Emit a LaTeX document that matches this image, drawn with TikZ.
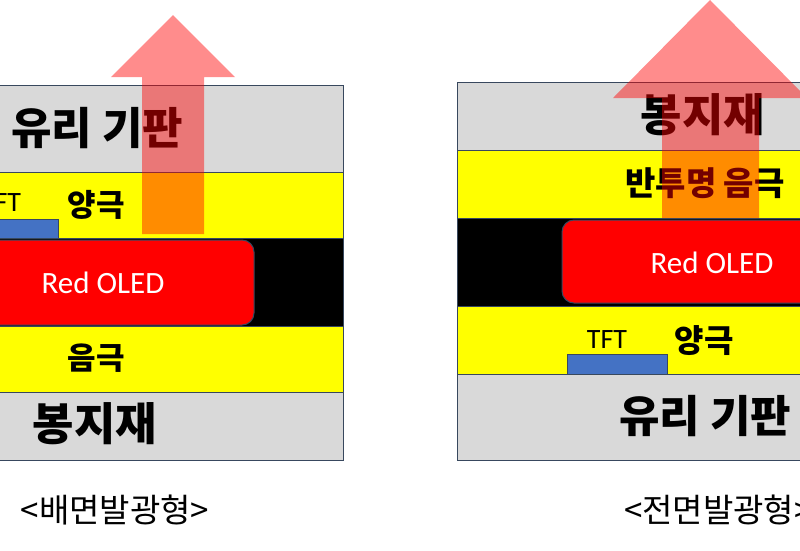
\documentclass[tikz,border=0pt]{standalone}
\usepackage{fontspec}
\setmainfont{Carlito}
\newfontfamily\kr{Noto Sans CJK KR}
\definecolor{edge}{RGB}{56,72,94}
\definecolor{glass}{RGB}{217,217,217}
\definecolor{elec}{RGB}{255,255,0}
\definecolor{tftblue}{RGB}{68,114,196}
\tikzset{
  layer/.style={draw=edge, line width=1pt},
  oled/.style={draw=edge, line width=1pt, fill=red, rounded corners=12pt},
  tftbox/.style={draw=edge, line width=1pt, fill=tftblue},
  light/.style={fill=red, fill opacity=0.45, draw=none},
  kb/.style={inner sep=0pt, font=\kr\bfseries\fontsize{#1}{#1}\selectfont},
  lat/.style={inner sep=0pt, font=\fontsize{#1}{#1}\selectfont},
  captext/.style={inner sep=0pt, font=\kr\fontsize{33}{33}\selectfont}
}
\begin{document}
\begin{tikzpicture}[x=1pt,y=-1pt]
\useasboundingbox (0,0) rectangle (800,550);
\clip (0,0) rectangle (800,550);
% ---------- left panel (bottom emission) ----------
\path[layer, fill=glass] (-10,85) rectangle (343,172);
\path[layer, fill=elec] (-10,172) rectangle (343,238);
\path[layer, fill=black] (-10,238) rectangle (343,326);
\path[layer, fill=elec] (-10,326) rectangle (343,392);
\path[layer, fill=glass] (-10,392) rectangle (343,460);
\path[oled] (-20,240) rectangle (254,325);
\path[tftbox] (-42,219) rectangle (58,238);
\node[kb=44] (glassL) at (97,128) {유리 기판};
\node[lat=28] (tftL) at (1,203) {TFT};
\node[kb=31] (anodeL) at (96,205) {양극};
\node[lat=31, text=white] (oledL) at (103,283) {Red OLED};
\node[kb=31] (cathL) at (96,358) {음극};
\node[kb=45] (sealL) at (95,424) {봉지재};
\node[captext] (capL) at (115,510) {<배면발광형>};
% ---------- right panel (top emission) ----------
\path[layer, fill=glass] (457,82) rectangle (810,150);
\path[layer, fill=elec] (457,150) rectangle (810,218);
\path[layer, fill=black] (457,218) rectangle (810,306);
\path[layer, fill=elec] (457,306) rectangle (810,374);
\path[layer, fill=glass] (457,374) rectangle (810,460);
\path[oled] (562,220) rectangle (830,303);
\path[tftbox] (567,354) rectangle (667,374);
\node[kb=45] (sealR) at (703,115) {봉지재};
\node[kb=33] (cathR) at (705,183) {반투명 음극};
\node[lat=31, text=white] (oledR) at (712,263) {Red OLED};
\node[lat=28] (tftR) at (607,340) {TFT};
\node[kb=32] (anodeR) at (704,341) {양극};
\node[kb=44] (glassR) at (705,416) {유리 기판};
\node[captext, anchor=west] (capR) at (624,510) {<전면발광형>};
% ---------- light arrows ----------
\path[light] (173,15) -- (235,77) -- (204,77) -- (204,234) -- (142,234) -- (142,77) -- (111,77) -- cycle;
\path[light] (710,0) -- (807,98) -- (759,98) -- (759,218) -- (662,218) -- (662,98) -- (613,98) -- cycle;
\end{tikzpicture}
\end{document}
